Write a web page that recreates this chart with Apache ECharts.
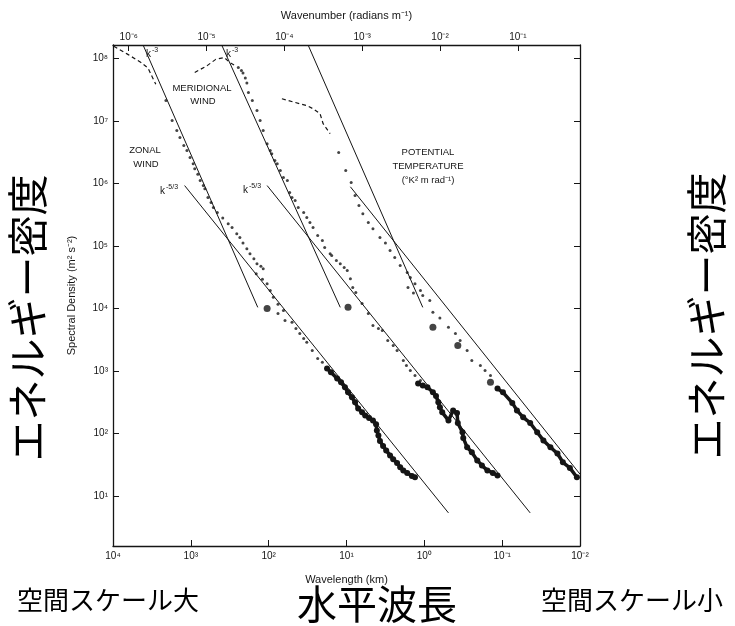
<!DOCTYPE html>
<html lang="ja">
<head>
<meta charset="UTF-8">
<title>Spectral Density</title>
<style>
    * { margin: 0; padding: 0; }
    #chart { width: 735px; height: 626px; background: #fff; }
</style>
<script src="https://cdn.jsdelivr.net/npm/echarts@6/dist/echarts.min.js"></script>
</head>
<body>
<div id="chart"></div>
<script>
// every point as [log10 wavelength (km), log10 spectral density]
var zonalDash = [[3.99, 8.20], [3.81, 8.07], [3.64, 7.94], [3.55, 7.85], [3.50, 7.72], [3.45, 7.59]];
var zonalDots = [[3.32, 7.33], [3.24, 7.01], [3.18, 6.85], [3.14, 6.74], [3.09, 6.61], [3.05, 6.53], [3.01, 6.42],
    [2.97, 6.32], [2.95, 6.24], [2.91, 6.15], [2.88, 6.05], [2.84, 5.97], [2.82, 5.92], [2.78, 5.78], [2.74, 5.70],
    [2.71, 5.62], [2.66, 5.54], [2.59, 5.45], [2.52, 5.36], [2.47, 5.30], [2.41, 5.20], [2.37, 5.14], [2.33, 5.05],
    [2.28, 4.96], [2.24, 4.88], [2.19, 4.80], [2.15, 4.72], [2.10, 4.68], [2.07, 4.64], [2.16, 4.56], [2.08, 4.47],
    [2.02, 4.40], [1.98, 4.29], [1.94, 4.18], [1.88, 4.07], [1.81, 3.97], [1.88, 3.92], [1.79, 3.81], [1.70, 3.78],
    [1.65, 3.68], [1.60, 3.60], [1.55, 3.52], [1.51, 3.46], [1.44, 3.33], [1.37, 3.20], [1.31, 3.14]];
var zonalTrail = [[1.25, 3.04], [1.20, 2.98], [1.12, 2.88], [1.07, 2.82], [1.02, 2.74], [0.98, 2.66], [0.93, 2.58],
    [0.89, 2.50], [0.85, 2.40], [0.80, 2.34], [0.76, 2.29], [0.71, 2.25], [0.66, 2.21], [0.62, 2.15], [0.61, 2.05],
    [0.59, 1.97], [0.57, 1.88], [0.53, 1.80], [0.49, 1.73], [0.44, 1.65], [0.40, 1.59], [0.35, 1.53], [0.31, 1.46],
    [0.27, 1.41], [0.22, 1.37], [0.16, 1.32], [0.12, 1.30]];

var meridDash = [[2.95, 7.78], [2.79, 7.89], [2.68, 7.99], [2.57, 8.02], [2.50, 7.94], [2.42, 7.88]];
var meridDots = [[2.39, 7.86], [2.35, 7.81], [2.33, 7.77], [2.30, 7.69], [2.28, 7.61], [2.26, 7.46], [2.21, 7.33],
    [2.15, 7.17], [2.11, 7.01], [2.07, 6.85], [2.02, 6.64], [1.98, 6.53], [1.96, 6.48], [1.92, 6.37], [1.89, 6.32],
    [1.85, 6.21], [1.81, 6.10], [1.76, 6.05], [1.73, 5.86], [1.70, 5.78], [1.66, 5.73], [1.62, 5.62], [1.55, 5.54],
    [1.51, 5.46], [1.47, 5.38], [1.43, 5.30], [1.37, 5.17], [1.31, 5.09], [1.28, 4.98], [1.21, 4.88], [1.19, 4.85],
    [1.13, 4.77], [1.08, 4.72], [1.03, 4.66], [0.99, 4.61], [0.95, 4.48], [0.92, 4.34], [0.88, 4.26], [0.80, 4.08],
    [0.72, 3.92], [0.66, 3.73], [0.59, 3.68], [0.54, 3.65], [0.47, 3.49], [0.40, 3.41], [0.35, 3.33], [0.27, 3.17],
    [0.23, 3.09], [0.18, 3.01], [0.12, 2.93], [0.05, 2.85]];
var meridTrail = [[0.08, 2.80], [0.02, 2.77], [-0.04, 2.74], [-0.11, 2.66], [-0.15, 2.60], [-0.18, 2.50], [-0.20, 2.42],
    [-0.23, 2.34], [-0.31, 2.21], [-0.37, 2.37], [-0.42, 2.33], [-0.43, 2.17], [-0.49, 2.02], [-0.50, 1.93],
    [-0.55, 1.78], [-0.61, 1.70], [-0.68, 1.57], [-0.74, 1.49], [-0.81, 1.41], [-0.88, 1.37], [-0.94, 1.33]];

var tempDash = [[1.83, 7.36], [1.66, 7.30], [1.51, 7.25], [1.43, 7.20], [1.34, 7.12], [1.30, 6.96], [1.21, 6.80]];
var tempDots = [[1.10, 6.50], [1.01, 6.21], [0.94, 6.02], [0.89, 5.81], [0.84, 5.65], [0.79, 5.52], [0.72, 5.38],
    [0.66, 5.28], [0.57, 5.14], [0.50, 5.05], [0.44, 4.93], [0.38, 4.82], [0.31, 4.69], [0.22, 4.58], [0.18, 4.50],
    [0.12, 4.40], [0.05, 4.29], [0.02, 4.21], [0.14, 4.25], [0.21, 4.34], [-0.07, 4.13], [-0.11, 3.94], [-0.20, 3.85],
    [-0.31, 3.70], [-0.40, 3.60], [-0.46, 3.49], [-0.55, 3.33], [-0.61, 3.17], [-0.72, 3.09], [-0.78, 3.01], [-0.85, 2.93]];
var tempTrail = [[-0.94, 2.72], [-1.01, 2.66], [-1.13, 2.49], [-1.19, 2.37], [-1.27, 2.26], [-1.36, 2.17],
    [-1.45, 2.02], [-1.53, 1.89], [-1.62, 1.78], [-1.71, 1.68], [-1.78, 1.54], [-1.87, 1.45], [-1.96, 1.30]];

var looseDots = [[2.02, 4.00], [0.98, 4.02], [-0.11, 3.70], [-0.43, 3.41], [-0.85, 2.82]];

// fitted k^-3 and k^-5/3 reference lines (end points)
var zonalK3 = [[3.61, 8.21], [2.14, 4.02]];
var zonalK53 = [[3.08, 5.97], [-0.31, 0.73]];
var meridK3 = [[2.60, 8.21], [1.08, 4.02]];
var meridK53 = [[2.02, 5.97], [-1.36, 0.73]];
var tempK3 = [[1.49, 8.21], [0.02, 4.02]];
var tempK53 = [[0.95, 5.95], [-2.00, 1.35]];

var INK = '#151515';
var FONT = '"Liberation Sans", Arial, sans-serif';
var JP = '"Noto Sans CJK JP", sans-serif';

var sup = { '0': '⁰', '1': '¹', '2': '²', '3': '³', '4': '⁴', '5': '⁵', '6': '⁶', '7': '⁷', '8': '⁸', '9': '⁹', '-': '⁻' };
function pow10(e) {
    return '10' + String(e).split('').map(function (c) { return sup[c]; }).join('');
}
function decadeLabel(v) {
    var e = Math.log10(v), r = Math.round(e);
    if (Math.abs(e - r) > 1e-6) return '';
    return pow10(r);
}
function toData(arr) {
    return arr.map(function (p) { return [Math.pow(10, p[0]), Math.pow(10, p[1])]; });
}

function dashSeries(arr) {
    return { type: 'line', data: toData(arr), symbol: 'none', silent: true,
        lineStyle: { color: INK, width: 1.2, type: [4, 3] }, z: 3 };
}
function dotSeries(arr) {
    return { type: 'scatter', data: toData(arr), symbolSize: 3, silent: true,
        itemStyle: { color: INK }, z: 4 };
}
function trailSeries(arr) {
    return { type: 'line', data: toData(arr), symbol: 'circle', symbolSize: 6, showSymbol: true, silent: true,
        itemStyle: { color: INK }, lineStyle: { color: INK, width: 3.5 }, z: 4 };
}
function refSeries(arr) {
    return { type: 'line', data: toData(arr), symbol: 'none', silent: true,
        lineStyle: { color: INK, width: 1 }, z: 2 };
}

function txt(x, y, s, size) {
    return { type: 'text', x: x, y: y, silent: true,
        style: { text: s, font: (size || 9) + 'px ' + FONT, fill: INK, align: 'center', verticalAlign: 'middle' } };
}
function jp(x, y, s, size, rot) {
    return { type: 'text', x: x, y: y, rotation: rot || 0, silent: true,
        style: { text: s, font: size + 'px ' + JP, fill: '#000', align: 'center', verticalAlign: 'middle' } };
}
function kLabel(x, y, exp) {
    return {
        type: 'group', x: x, y: y, silent: true,
        children: [
            { type: 'text', x: 0, y: 0, style: { text: 'k', font: '10px ' + FONT, fill: INK, verticalAlign: 'middle' } },
            { type: 'text', x: 6, y: -4, style: { text: exp, font: '7px ' + FONT, fill: INK, verticalAlign: 'middle' } }
        ]
    };
}

var chart = echarts.init(document.getElementById('chart'));

var yCommon = {
    type: 'log', logBase: 10, min: Math.pow(10, 0.2), max: Math.pow(10, 8.22), splitNumber: 10,
    axisLine: { show: true, lineStyle: { color: INK, width: 1.3 } },
    axisTick: { show: true, inside: true, length: 6, lineStyle: { color: INK } },
    splitLine: { show: false },
    minorTick: { show: false }
};

var option = {
    animation: false,
    backgroundColor: '#fff',
    grid: { left: 113, right: 155, top: 45, bottom: 80, containLabel: false },
    xAxis: [{
        type: 'log', logBase: 10, inverse: true, min: 0.01, max: 10000, position: 'bottom',
        name: 'Wavelength (km)', nameLocation: 'middle', nameGap: 28,
        nameTextStyle: { fontFamily: FONT, fontSize: 11, color: INK },
        axisLine: { lineStyle: { color: INK, width: 1.3 } },
        axisTick: { inside: true, length: 6, lineStyle: { color: INK } },
        axisLabel: { formatter: decadeLabel, fontFamily: FONT, fontSize: 10, color: INK, margin: 5 },
        splitLine: { show: false }
    }, {
        type: 'log', logBase: 10, min: 2 * Math.PI * 1e-7, max: 2 * Math.PI * 1e-1, position: 'top', splitNumber: 10,
        name: 'Wavenumber (radians m⁻¹)', nameLocation: 'middle', nameGap: 24,
        nameTextStyle: { fontFamily: FONT, fontSize: 11, color: INK },
        axisLine: { lineStyle: { color: INK, width: 1.3 } },
        axisTick: { inside: true, length: 6, lineStyle: { color: INK } },
        axisLabel: { formatter: decadeLabel, fontFamily: FONT, fontSize: 10, color: INK, margin: 3 },
        splitLine: { show: false }
    }],
    yAxis: [Object.assign({}, yCommon, {
        position: 'left',
        name: 'Spectral Density (m² s⁻²)', nameLocation: 'middle', nameGap: 36, nameRotate: 90,
        nameTextStyle: { fontFamily: FONT, fontSize: 11, color: INK },
        axisLabel: { formatter: decadeLabel, fontFamily: FONT, fontSize: 10, color: INK, margin: 5 }
    }), Object.assign({}, yCommon, {
        position: 'right',
        axisLabel: { show: false }
    })],
    series: [
        refSeries(zonalK3), refSeries(zonalK53), refSeries(meridK3),
        refSeries(meridK53), refSeries(tempK3), refSeries(tempK53),
        dashSeries(zonalDash), dashSeries(meridDash), dashSeries(tempDash),
        dotSeries(zonalDots), dotSeries(meridDots), dotSeries(tempDots),
        trailSeries(zonalTrail), trailSeries(meridTrail), trailSeries(tempTrail),
        { type: 'scatter', data: toData(looseDots), symbolSize: 7, silent: true, itemStyle: { color: INK }, z: 4 }
    ],
    graphic: [
        kLabel(146, 54, '-3'), kLabel(226, 54, '-3'),
        kLabel(160, 191, '-5/3'), kLabel(243, 190, '-5/3'),
        txt(202, 88, 'MERIDIONAL', 9.5), txt(203, 101, 'WIND', 9.5),
        txt(145, 150, 'ZONAL', 9.5), txt(146, 164, 'WIND', 9.5),
        txt(428, 152, 'POTENTIAL', 9.5), txt(428, 166, 'TEMPERATURE', 9.5), txt(428, 180, '(°K² m rad⁻¹)', 9.5),
        jp(27, 318, 'エネルギー密度', 41, Math.PI / 2),
        jp(706, 316, 'エネルギー密度', 41, Math.PI / 2),
        jp(108, 600, '空間スケール大', 26),
        jp(377, 604, '水平波長', 40),
        jp(632, 600, '空間スケール小', 26)
    ]
};

chart.setOption(option);
</script>
</body>
</html>
